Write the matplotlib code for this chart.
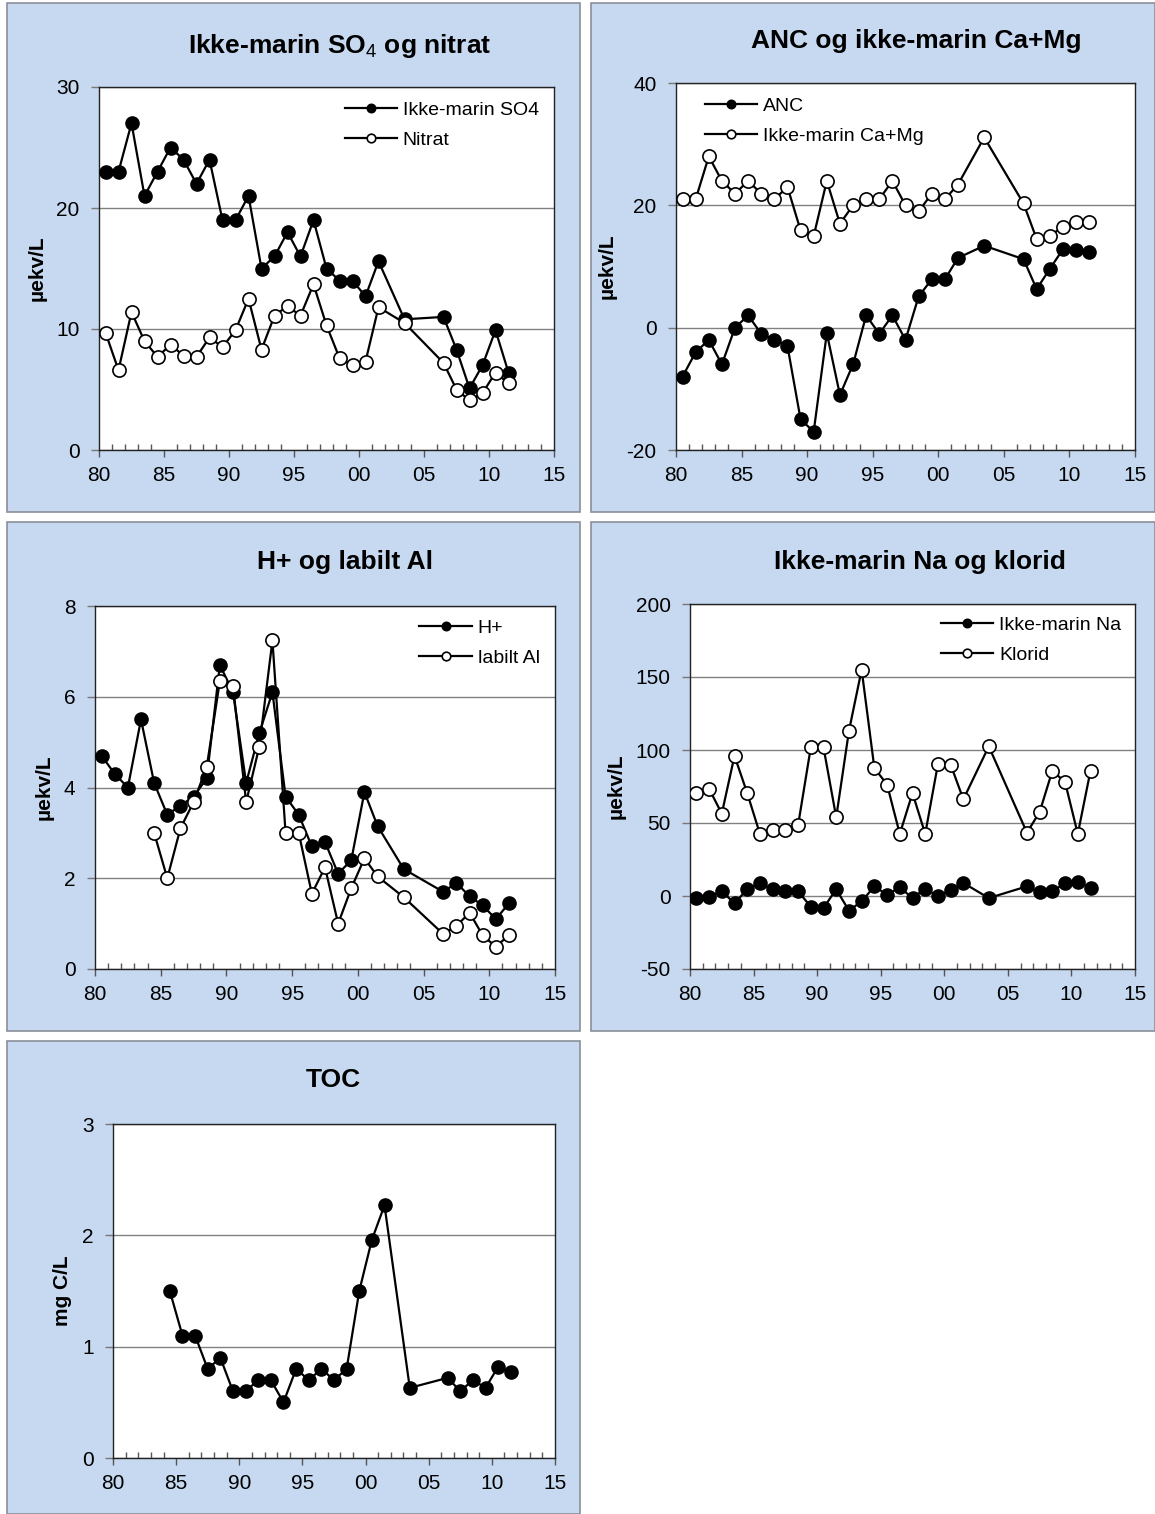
import matplotlib
matplotlib.use("Agg")
import matplotlib.pyplot as plt
from matplotlib.patches import Rectangle
from matplotlib.ticker import MultipleLocator, FixedLocator

plt.rcParams['font.family'] = ['Liberation Sans', 'DejaVu Sans']
plt.rcParams['mathtext.fontset'] = 'custom'
plt.rcParams['mathtext.rm'] = 'Liberation Sans'
plt.rcParams['mathtext.bf'] = 'Liberation Sans:bold'
plt.rcParams['axes.unicode_minus'] = False

# years (two-digit years, plotted at mid-year)
years_all = [1980, 1981, 1982, 1983, 1984, 1985, 1986, 1987, 1988, 1989, 1990,
             1991, 1992, 1993, 1994, 1995, 1996, 1997, 1998, 1999, 2000, 2001,
             2003, 2006, 2007, 2008, 2009, 2010, 2011]
years_al = years_all[4:]
years_toc = years_all[4:]

so4 = [23, 23, 27, 21, 23, 25, 24, 22, 24, 19, 19, 21, 15, 16, 18, 16, 19, 15,
       14, 14, 12.7, 15.6, 10.8, 11.0, 8.3, 5.1, 7.0, 9.9, 6.4]
nitrat = [9.7, 6.6, 11.4, 9.0, 7.7, 8.7, 7.8, 7.7, 9.3, 8.5, 9.9, 12.5, 8.3, 11.1,
          11.9, 11.1, 13.7, 10.3, 7.6, 7.0, 7.3, 11.8, 10.5, 7.2, 5.0, 4.1, 4.7,
          6.4, 5.5]

anc = [-8, -4, -2, -6, 0, 2, -1, -2, -3, -15, -17, -0.9, -11, -6, 2, -1, 2, -2,
       5.1, 7.9, 7.9, 11.4, 13.4, 11.2, 6.3, 9.6, 12.8, 12.7, 12.3]
camg = [21, 21, 28, 24, 21.9, 24, 21.9, 21, 23, 15.9, 15, 24, 17, 20, 21, 21, 24,
        20, 19, 21.9, 21, 23.4, 31.1, 20.3, 14.5, 15.0, 16.5, 17.2, 17.3]

hplus = [4.7, 4.3, 4.0, 5.5, 4.1, 3.4, 3.6, 3.8, 4.2, 6.7, 6.1, 4.1, 5.2, 6.1,
         3.8, 3.4, 2.7, 2.8, 2.1, 2.4, 3.9, 3.15, 2.2, 1.7, 1.9, 1.6, 1.4, 1.1, 1.45]
labil_al = [3.0, 2.0, 3.1, 3.68, 4.45, 6.35, 6.23, 3.68, 4.9, 7.24, 3.0, 3.0,
            1.66, 2.24, 1.0, 1.78, 2.44, 2.04, 1.58, 0.77, 0.95, 1.24, 0.74, 0.49, 0.75]

na = [-1.4, -0.5, 3.2, -5, 4.6, 8.7, 4.6, 3.2, 3.2, -7.3, -8.2, 4.6, -10, -3.7,
      6.6, 0.9, 5.9, -1.4, 5.0, -0.2, 4.1, 8.9, -1.4, 6.6, 2.5, 3.2, 8.7, 9.6, 5.5]
klorid = [70.5, 73.5, 56.4, 96, 70.5, 42.5, 45.2, 45.2, 48.4, 101.8, 101.8, 53.9,
          113, 155, 87.7, 76.3, 42.5, 70.5, 42.5, 90.4, 90, 66.2, 102.5, 43.4,
          57.5, 85.8, 78, 42.5, 85.8]

toc = [1.5, 1.1, 1.1, 0.8, 0.9, 0.6, 0.6, 0.7, 0.7, 0.5, 0.8, 0.7, 0.8, 0.7, 0.8,
       1.5, 1.96, 2.27, 0.63, 0.72, 0.6, 0.7, 0.63, 0.82, 0.77]

xtick_labels = ['80', '85', '90', '95', '00', '05', '10', '15']

W, H = 1155, 1514
fig = plt.figure(figsize=(W / 100, H / 100), dpi=100)
fig.patch.set_facecolor('white')

BG = '#c6d9f0'
EDGE = '#8a8f99'


def panel(x0, y0, x1, y1):
    fig.patches.append(Rectangle((x0 / W, 1 - y1 / H), (x1 - x0) / W, (y1 - y0) / H,
                                 transform=fig.transFigure, facecolor=BG,
                                 edgecolor=EDGE, linewidth=1.2, zorder=-5))


def make_ax(x0, y0, x1, y1):
    return fig.add_axes([x0 / W, 1 - y1 / H, (x1 - x0) / W, (y1 - y0) / H])


def style(ax, ylim, ystep, ylabel):
    ax.set_facecolor('white')
    ax.set_xlim(1980, 2015)
    ax.set_ylim(*ylim)
    ax.xaxis.set_major_locator(FixedLocator(range(1980, 2016, 5)))
    ax.set_xticklabels(xtick_labels)
    ax.xaxis.set_minor_locator(MultipleLocator(1))
    ax.yaxis.set_major_locator(MultipleLocator(ystep))
    ax.tick_params(axis='x', which='major', direction='out', length=5,
                   width=1, colors='#555555', labelcolor='black', labelsize=15, pad=6.5)
    ax.tick_params(axis='x', which='minor', direction='in', length=4,
                   width=1, colors='#555555')
    ax.tick_params(axis='y', which='major', direction='out', length=6,
                   width=1, colors='#777777', labelcolor='black', labelsize=15, pad=8)
    ax.grid(axis='y', color='#808080', linewidth=1)
    ax.set_axisbelow(True)
    for s in ax.spines.values():
        s.set_color('#222222')
        s.set_linewidth(1)
    ax.set_ylabel(ylabel, fontsize=15, fontweight='bold', labelpad=7)


def xs(yrs):
    return [y + 0.5 for y in yrs]


def filled(ax, yrs, vals, label):
    ax.plot(xs(yrs), vals, '-o', color='black', linewidth=1.6, markersize=9.5,
            markerfacecolor='black', markeredgecolor='black', label=label, zorder=3)


def hollow(ax, yrs, vals, label):
    ax.plot(xs(yrs), vals, '-o', color='black', linewidth=1.6, markersize=9.5,
            markerfacecolor='white', markeredgecolor='black', markeredgewidth=1.2,
            label=label, zorder=3)


def legend(ax, loc, anchor):
    ax.legend(loc=loc, bbox_to_anchor=anchor, frameon=False, fontsize=14,
              handlelength=2.7, handletextpad=0.3, borderaxespad=0, borderpad=0,
              labelspacing=0.65, markerscale=0.65)


# panel frames
panel(7, 3, 580, 512)
panel(591, 3, 1155, 512)
panel(7, 522, 580, 1031)
panel(591, 522, 1155, 1031)
panel(7, 1041, 580, 1514)

# 1: SO4 and nitrate
ax1 = make_ax(99, 87, 554, 450)
style(ax1, (0, 30), 10, 'µekv/L')
filled(ax1, years_all, so4, 'Ikke-marin SO4')
hollow(ax1, years_all, nitrat, 'Nitrat')
legend(ax1, 'upper right', (0.967, 0.961))
fig.text(340 / W, 1 - 46 / H, 'Ikke-marin SO$_{4}$ og nitrat', ha='center',
         va='center', fontsize=19, fontweight='bold')

# 2: ANC and Ca+Mg
ax2 = make_ax(676, 83, 1135, 450)
style(ax2, (-20, 40), 20, 'µekv/L')
filled(ax2, years_all, anc, 'ANC')
hollow(ax2, years_all, camg, 'Ikke-marin Ca+Mg')
legend(ax2, 'upper left', (0.063, 0.962))
fig.text(916 / W, 1 - 41 / H, 'ANC og ikke-marin Ca+Mg', ha='center', va='center',
         fontsize=19, fontweight='bold')

# 3: H+ and labile Al
ax3 = make_ax(95, 606, 555, 969)
style(ax3, (0, 8), 2, 'µekv/L')
filled(ax3, years_all, hplus, 'H+')
hollow(ax3, years_al, labil_al, 'labilt Al')
legend(ax3, 'upper right', (0.967, 0.964))
fig.text(345 / W, 1 - 562 / H, 'H+ og labilt Al', ha='center', va='center',
         fontsize=19, fontweight='bold')

# 4: Na and chloride
ax4 = make_ax(690, 604, 1135, 969)
style(ax4, (-50, 200), 50, 'µekv/L')
filled(ax4, years_all, na, 'Ikke-marin Na')
hollow(ax4, years_all, klorid, 'Klorid')
legend(ax4, 'upper right', (0.969, 0.967))
fig.text(920 / W, 1 - 562 / H, 'Ikke-marin Na og klorid', ha='center', va='center',
         fontsize=19, fontweight='bold')

# 5: TOC
ax5 = make_ax(113, 1124, 555, 1458)
style(ax5, (0, 3), 1, 'mg C/L')
filled(ax5, years_toc, toc, 'TOC')
fig.text(333 / W, 1 - 1080 / H, 'TOC', ha='center', va='center',
         fontsize=19, fontweight='bold')

fig.savefig('out.png', dpi=100)
